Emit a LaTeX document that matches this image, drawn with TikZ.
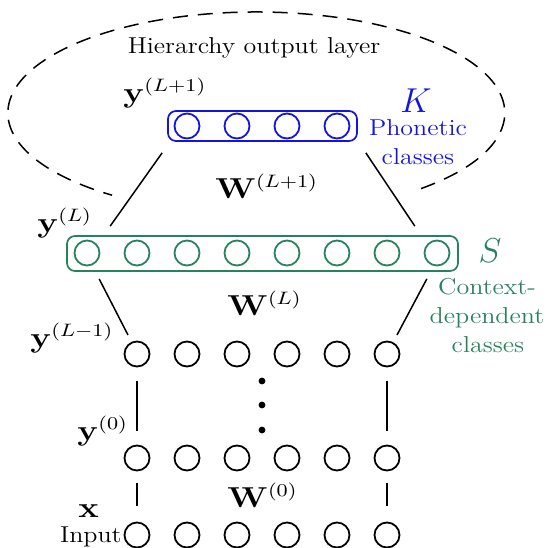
\documentclass[tikz,border=0pt]{standalone}
\usepackage{graphicx}
\usetikzlibrary{calc}
\definecolor{bl}{RGB}{20,20,225}
\definecolor{gr}{RGB}{40,130,95}
\newcommand\hsc[1]{\scalebox{1.13}[1]{#1}}
\newcommand\msc[1]{\scalebox{1.2}[1]{#1}}
\begin{document}
\begin{tikzpicture}[x=0.5pt,y=-0.5pt,
 neuron/.style={circle, draw, line width=0.9pt, minimum size=12.5pt, inner sep=0pt},
 bneuron/.style={neuron, draw=bl},
 gneuron/.style={neuron, draw=gr},
 layerbox/.style={rectangle, rounded corners=4pt, line width=0.85pt, inner sep=0pt},
 conn/.style={line width=0.75pt},
 dotn/.style={circle, fill, inner sep=0pt, minimum size=3.4pt},
 txt/.style={inner sep=0pt, font=\fontsize{11.5}{13}\selectfont},
 mth/.style={inner sep=0pt, font=\fontsize{13.5}{16}\selectfont},
 big/.style={inner sep=0pt, font=\fontsize{16}{19}\selectfont},
]
\useasboundingbox (0,0) rectangle (548,548);

% hierarchy output layer outline
\draw[dashed, dash pattern=on 7.5pt off 5pt, line width=0.75pt]
  (421,188.6) arc[start angle=-48.5, end angle=234.5, x radius=124.25pt, y radius=50.5pt];

% layer boxes
\node[layerbox, draw=bl, minimum width=94.5pt, minimum height=15pt] (kbox) at (262.5,126) {};
\node[layerbox, draw=gr, minimum width=195.5pt, minimum height=17.5pt] (sbox) at (262.5,253.5) {};

% neurons
\foreach \i in {1,...,4} \node[bneuron] (k\i) at (137+50*\i,126) {};
\foreach \i in {1,...,8} \node[gneuron] (s\i) at (37+50*\i,253) {};
\foreach \i in {1,...,6} {
  \node[neuron] (a\i) at (87+50*\i,354) {};
  \node[neuron] (b\i) at (87+50*\i,458) {};
  \node[neuron] (c\i) at (87+50*\i,535) {};
}
\node[dotn] (d1) at (262,381) {};
\node[dotn] (d2) at (262,405) {};
\node[dotn] (d3) at (262,430) {};

% connectors
\draw[conn] ($(kbox.south west)+(-5,11)$) -- ($(sbox.north west)+(44,-9)$);
\draw[conn] ($(kbox.south east)+(8,11)$) -- ($(sbox.north east)+(-44,-9)$);
\draw[conn] ($(sbox.south west)+(33,7)$) -- ($(a1)+(-9,-19)$);
\draw[conn] ($(sbox.south east)+(-32,7)$) -- ($(a6)+(10,-19)$);
\draw[conn, shorten <=6.75pt, shorten >=6.75pt] (a1) -- (b1);
\draw[conn, shorten <=6.75pt, shorten >=6.75pt] (a6) -- (b6);
\draw[conn, shorten <=5.75pt, shorten >=7.75pt] (b1) -- (c1);
\draw[conn, shorten <=5.75pt, shorten >=7.75pt] (b6) -- (c6);

% labels
\node[txt, anchor=base] (title) at (254,53) {\hsc{Hierarchy output layer}};
\node[mth, anchor=base west] (yL1) at (123,102) {\msc{$\mathbf{y}^{(L+1)}$}};
\node[big, text=bl, anchor=base] (K) at (416,112) {$K$};
\node[txt, text=bl, anchor=base] (ph1) at (418,135) {\hsc{Phonetic}};
\node[txt, text=bl, anchor=base] (ph2) at (418,164) {\hsc{classes}};
\node[mth, anchor=base west] (WL1) at (215,198) {\msc{$\mathbf{W}^{(L+1)}$}};
\node[mth, anchor=base west] (yL) at (37,232) {\msc{$\mathbf{y}^{(L)}$}};
\node[big, text=gr, anchor=base] (S) at (490,262) {$S$};
\node[txt, text=gr, anchor=base] (cd1) at (487,294) {\hsc{Context-}};
\node[txt, text=gr, anchor=base] (cd2) at (487,323) {\hsc{dependent}};
\node[txt, text=gr, anchor=base] (cd3) at (488,352) {\hsc{classes}};
\node[mth, anchor=base west] (WL) at (227,315) {\msc{$\mathbf{W}^{(L)}$}};
\node[mth, anchor=base west] (yLm) at (30,347) {\msc{$\mathbf{y}^{(L-1)}$}};
\node[mth, anchor=base west] (y0) at (77,440) {\msc{$\mathbf{y}^{(0)}$}};
\node[mth, anchor=base west] (x) at (78,517) {\msc{$\mathbf{x}$}};
\node[txt, anchor=base east] (inp) at (122,542) {\hsc{Input}};
\node[mth, anchor=base west] (W0) at (227,507) {\msc{$\mathbf{W}^{(0)}$}};
\end{tikzpicture}
\end{document}
